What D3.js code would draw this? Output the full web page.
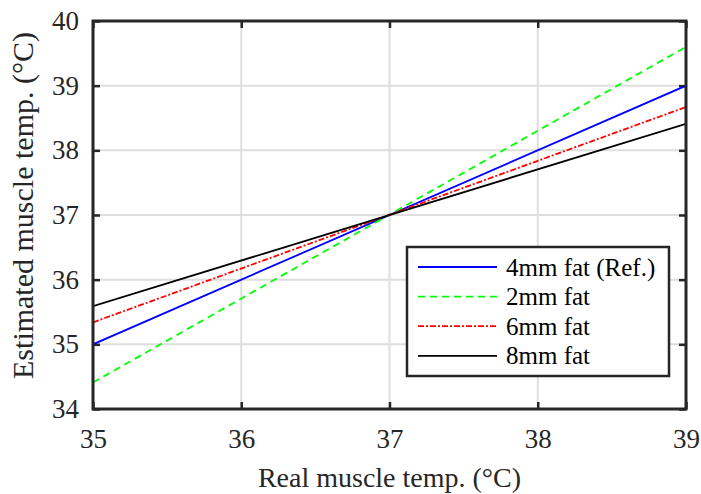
<!DOCTYPE html>
<html>
<head>
<meta charset="utf-8">
<script src="https://cdn.jsdelivr.net/npm/d3@7"></script>
<style>
  body { margin: 0; background: #fff; }
</style>
</head>
<body>
<div id="chart"></div>
<script>
// data: endpoints of each calibration line (real temp -> estimated temp)
const realTemp = [35, 39];
const fat4 = [35, 39];
const fat2 = [34.41, 39.6];
const fat6 = [35.34, 38.67];
const fat8 = [35.59, 38.41];
const xTicks = [35, 36, 37, 38, 39];
const yTicks = [34, 35, 36, 37, 38, 39, 40];

const series = [
  {name: "4mm fat (Ref.)", values: fat4, color: "#0000ff", dash: null},
  {name: "2mm fat", values: fat2, color: "#00ff00", dash: "7,5"},
  {name: "6mm fat", values: fat6, color: "#ff0000", dash: "6,2,2,2"},
  {name: "8mm fat", values: fat8, color: "#000000", dash: null}
];

const FONT = "'Liberation Serif', 'Times New Roman', serif";

// set the dimensions and margins of the graph
const W = 701, H = 494;
const margin = {top: 21, right: 15, bottom: 85, left: 93},
  width = W - margin.left - margin.right,
  height = H - margin.top - margin.bottom;

const svg = d3.select("#chart")
  .append("svg")
    .attr("width", W)
    .attr("height", H)
  .append("g")
    .attr("transform", "translate(" + margin.left + "," + margin.top + ")");

const x = d3.scaleLinear().domain([35, 39]).range([0, width]);
const y = d3.scaleLinear().domain([34, 40]).range([height, 0]);

// grid
svg.append("g").selectAll("line")
  .data(xTicks)
  .join("line")
    .attr("x1", d => x(d)).attr("x2", d => x(d))
    .attr("y1", 0).attr("y2", height)
    .attr("stroke", "#dedede").attr("stroke-width", 2);
svg.append("g").selectAll("line")
  .data(yTicks)
  .join("line")
    .attr("y1", d => y(d)).attr("y2", d => y(d))
    .attr("x1", 0).attr("x2", width)
    .attr("stroke", "#dedede").attr("stroke-width", 2);

// axes (ticks inward)
function styleAxis(g) {
  g.select(".domain").remove();
  g.selectAll(".tick line").attr("stroke", "#262626").attr("stroke-width", 2.5);
  g.selectAll(".tick text")
    .style("font-family", FONT)
    .style("font-size", "27px").attr("fill", "#262626");
}
svg.append("g")
  .attr("transform", "translate(0," + height + ")")
  .call(d3.axisBottom(x).tickValues(xTicks).tickSizeInner(-7).tickSizeOuter(0).tickPadding(20).tickFormat(d3.format("d")))
  .call(styleAxis);
svg.append("g")
  .call(d3.axisTop(x).tickValues(xTicks).tickSizeInner(-7).tickSizeOuter(0).tickFormat(""))
  .call(styleAxis);
svg.append("g")
  .call(d3.axisLeft(y).tickValues(yTicks).tickSizeInner(-7).tickSizeOuter(0).tickPadding(14).tickFormat(d3.format("d")))
  .call(styleAxis);
svg.append("g")
  .attr("transform", "translate(" + width + ",0)")
  .call(d3.axisRight(y).tickValues(yTicks).tickSizeInner(-7).tickSizeOuter(0).tickFormat(""))
  .call(styleAxis);

// lines
const line = d3.line()
  .x((d, i) => x(realTemp[i]))
  .y(d => y(d));

svg.append("defs").append("clipPath").attr("id", "clip")
  .append("rect").attr("width", width).attr("height", height);

svg.append("g").attr("clip-path", "url(#clip)")
  .selectAll("path")
  .data(series)
  .join("path")
    .attr("d", d => line(d.values))
    .attr("fill", "none")
    .attr("stroke", d => d.color)
    .attr("stroke-width", 1.8)
    .attr("stroke-dasharray", d => d.dash);

// box
svg.append("rect")
  .attr("width", width).attr("height", height)
  .attr("fill", "none").attr("stroke", "#262626").attr("stroke-width", 3);

// legend
const lg = svg.append("g").attr("transform", "translate(" + (407 - margin.left) + "," + (247 - margin.top) + ")");
lg.append("rect")
  .attr("width", 262).attr("height", 129)
  .attr("fill", "#fff").attr("stroke", "#262626").attr("stroke-width", 2.5);
const item = lg.selectAll("g.item")
  .data(series)
  .join("g")
    .attr("class", "item")
    .attr("transform", (d, i) => "translate(0," + (20 + i * 29.6) + ")");
item.append("line")
  .attr("x1", 11).attr("x2", 90)
  .attr("stroke", d => d.color).attr("stroke-width", 1.8)
  .attr("stroke-dasharray", d => d.dash);
item.append("text")
  .attr("x", 99).attr("y", 8.5)
  .style("font-family", FONT).style("font-size", "25px")
  .attr("fill", "#000")
  .text(d => d.name);

// axis labels
svg.append("text")
  .attr("x", width / 2).attr("y", height + 78)
  .attr("text-anchor", "middle")
  .style("font-family", FONT).style("font-size", "28px")
  .attr("fill", "#262626")
  .text("Real muscle temp. (°C)");
svg.append("text")
  .attr("transform", "translate(" + (33 - margin.left) + "," + (height / 2 - 9.5) + ") rotate(-90)")
  .attr("text-anchor", "middle")
  .style("font-family", FONT).style("font-size", "30px")
  .attr("fill", "#262626")
  .text("Estimated muscle temp. (°C)");
</script>
</body>
</html>
